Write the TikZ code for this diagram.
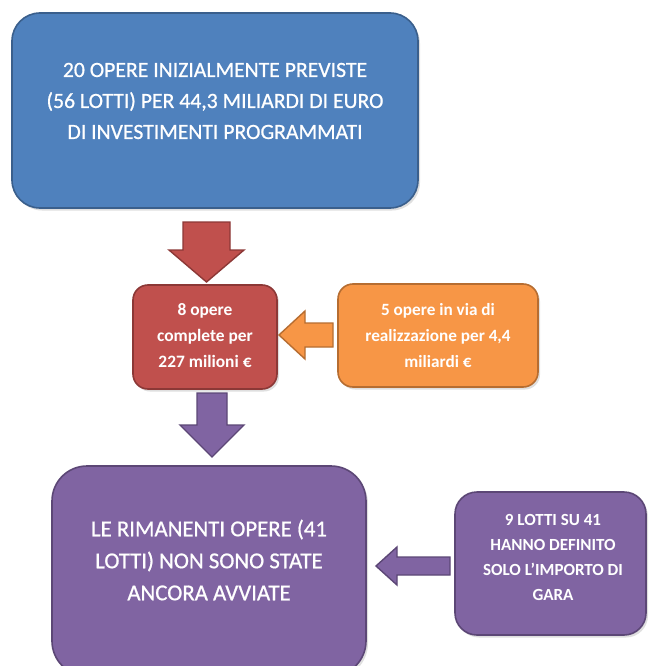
\documentclass[tikz,border=0pt]{standalone}
\usepackage{fontspec}
\setmainfont{Carlito}
\newfontfamily\heavyfont{Carlito}[FakeBold=0.7]
\usetikzlibrary{shadows}
\definecolor{cblue}{HTML}{4F81BD}
\definecolor{cblueD}{HTML}{3A5F8C}
\definecolor{cred}{HTML}{C0504D}
\definecolor{credD}{HTML}{8C3836}
\definecolor{corange}{HTML}{F79646}
\definecolor{corangeD}{HTML}{B66D31}
\definecolor{cpurple}{HTML}{8064A2}
\definecolor{cpurpleD}{HTML}{5C4776}
\tikzset{
  box/.style={draw, line width=1.6pt, inner sep=0pt,
    drop shadow={opacity=0.25, shadow xshift=2pt, shadow yshift=-2.5pt}},
  txt/.style={text=white, align=center, inner sep=0pt},
  blockarrow/.style={line width=1.4pt, line join=miter}
}
\begin{document}
\begin{tikzpicture}[x=1pt,y=-1pt]
\useasboundingbox (0,0) rectangle (648,666);
\clip (0,0) rectangle (648,666);
\fill[white] (0,0) rectangle (648,666);

% boxes
\node[box, fill=cblue, draw=cblueD, minimum width=406pt, minimum height=195pt, rounded corners=28pt] (top) at (215,110.5) {};
\node[box, fill=cred, draw=credD, minimum width=144pt, minimum height=104pt, rounded corners=15pt] (red) at (205,337) {};
\node[box, fill=corange, draw=corangeD, minimum width=200pt, minimum height=103pt, rounded corners=15pt] (orange) at (438,335.5) {};
\node[box, fill=cpurple, draw=cpurpleD, minimum width=314pt, minimum height=210pt, rounded corners=35pt] (big) at (209,571) {};
\node[box, fill=cpurple, draw=cpurpleD, minimum width=191pt, minimum height=143pt, rounded corners=22pt] (small) at (550.5,563.5) {};

% texts
\node[txt, font=\heavyfont\fontsize{21.7}{31}\selectfont] (toptext) at (215,101)
  {20 OPERE INIZIALMENTE PREVISTE\\(56 LOTTI) PER 44,3 MILIARDI DI EURO\\DI INVESTIMENTI PROGRAMMATI};
\node[txt, font=\bfseries\fontsize{17.4}{26}\selectfont] (redtext) at (205,336)
  {8 opere\\complete per\\227 milioni €};
\node[txt, font=\bfseries\fontsize{17.2}{26}\selectfont] (orangetext) at (438,336)
  {5 opere in via di\\realizzazione per 4,4\\miliardi €};
\node[txt, font=\heavyfont\fontsize{22.8}{32}\selectfont] (bigtext) at (209,560)
  {LE RIMANENTI OPERE (41\\LOTTI) NON SONO STATE\\ANCORA AVVIATE};
\node[txt, font=\bfseries\fontsize{17}{25}\selectfont] (smalltext) at (553,557.5)
  {9 LOTTI SU 41\\HANNO DEFINITO\\SOLO L’IMPORTO DI\\GARA};

% block arrows
\draw[blockarrow, fill=cred, draw=credD]
  (183,222) -- (230,222) -- (230,250) -- (244,250) -- (206.5,282) -- (169,250) -- (183,250) -- cycle;
\draw[blockarrow, fill=corange, draw=corangeD]
  (333,323) -- (333,347) -- (305,347) -- (305,359) -- (279,335) -- (305,311) -- (305,323) -- cycle;
\draw[blockarrow, fill=cpurple, draw=cpurpleD]
  (197,393) -- (227,393) -- (227,425) -- (244,425) -- (212,457) -- (180,425) -- (197,425) -- cycle;
\draw[blockarrow, fill=cpurple, draw=cpurpleD]
  (450,557) -- (450,575) -- (397,575) -- (397,585) -- (376,566) -- (397,547) -- (397,557) -- cycle;
\end{tikzpicture}
\end{document}
